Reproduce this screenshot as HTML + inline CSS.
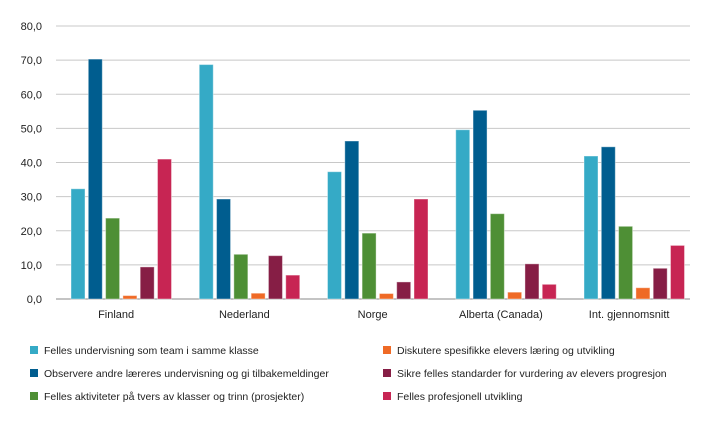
<!DOCTYPE html>
<html><head><meta charset="utf-8"><style>
body{margin:0;background:#fff;font-family:"Liberation Sans",sans-serif;}
svg text{font-family:"Liberation Sans",sans-serif;fill:#222;}
</style></head><body>
<svg id="c" width="719" height="425"></svg>
<script>
const categories=["Finland","Nederland","Norge","Alberta (Canada)","Int. gjennomsnitt"];
const seriesNames=["Felles undervisning som team i samme klasse","Observere andre læreres undervisning og gi tilbakemeldinger","Felles aktiviteter på tvers av klasser og trinn (prosjekter)","Diskutere spesifikke elevers læring og utvikling","Sikre felles standarder for vurdering av elevers progresjon","Felles profesjonell utvikling"];
const s1=[32.3,68.7,37.3,49.6,41.9];
const s2=[70.3,29.3,46.3,55.3,44.6];
const s3=[23.7,13.1,19.3,25.0,21.3];
const s4=[1.0,1.7,1.6,2.0,3.3];
const s5=[9.4,12.7,5.0,10.3,9.0];
const s6=[41.0,7.0,29.3,4.3,15.7];
const yTicks=["0,0","10,0","20,0","30,0","40,0","50,0","60,0","70,0","80,0"];
const series=[s1,s2,s3,s4,s5,s6];
const colors=["#35aac6","#005d8f","#4e8f35","#ef6a26","#861e45","#c72553"];
const svg=document.getElementById('c');const NS="http://www.w3.org/2000/svg";
function mk(t,a,p){const e=document.createElementNS(NS,t);for(const k in a)e.setAttribute(k,a[k]);(p||svg).appendChild(e);return e;}
const x0=56,x1=690,yb=299,yt=26;
const y=v=>yb-(v/80)*(yb-yt);
const gw=128.25;
yTicks.forEach((t,i)=>{const v=i*10;
 const l=mk('line',{x1:x0,x2:x1,y1:y(v),y2:y(v),stroke:i==0?'#888':'#c8c8c8','stroke-width':1});
 
 
 const tx=mk('text',{x:42,y:y(v)+4,'text-anchor':'end','font-size':11});tx.textContent=t;
 
 
});
categories.forEach((c,ci)=>{
 const gs=x0+ci*gw+15;
 series.forEach((s,si)=>{
  const r=mk('rect',{x:gs+si*17.3,y:y(s[ci]),width:14,height:yb-y(s[ci]),fill:colors[si],stroke:'#fff','stroke-opacity':0.4,'stroke-width':1});
  
  
 });
 const t=mk('text',{x:x0+ci*gw+gw/2-4,y:318,'text-anchor':'middle','font-size':11});t.textContent=c;
 
 
});
seriesNames.forEach((n,i)=>{
 const col=Math.floor(i/3),row=i%3;
 const lx=col?383:30,ly=346+row*23;
 const g=mk('g',{});
 
 
 mk('rect',{x:lx,y:ly,width:8,height:8,fill:colors[i]},g);
 const t=mk('text',{x:lx+14,y:ly+8,'font-size':10.5},g);t.textContent=n;
});
</script>
</body></html>
